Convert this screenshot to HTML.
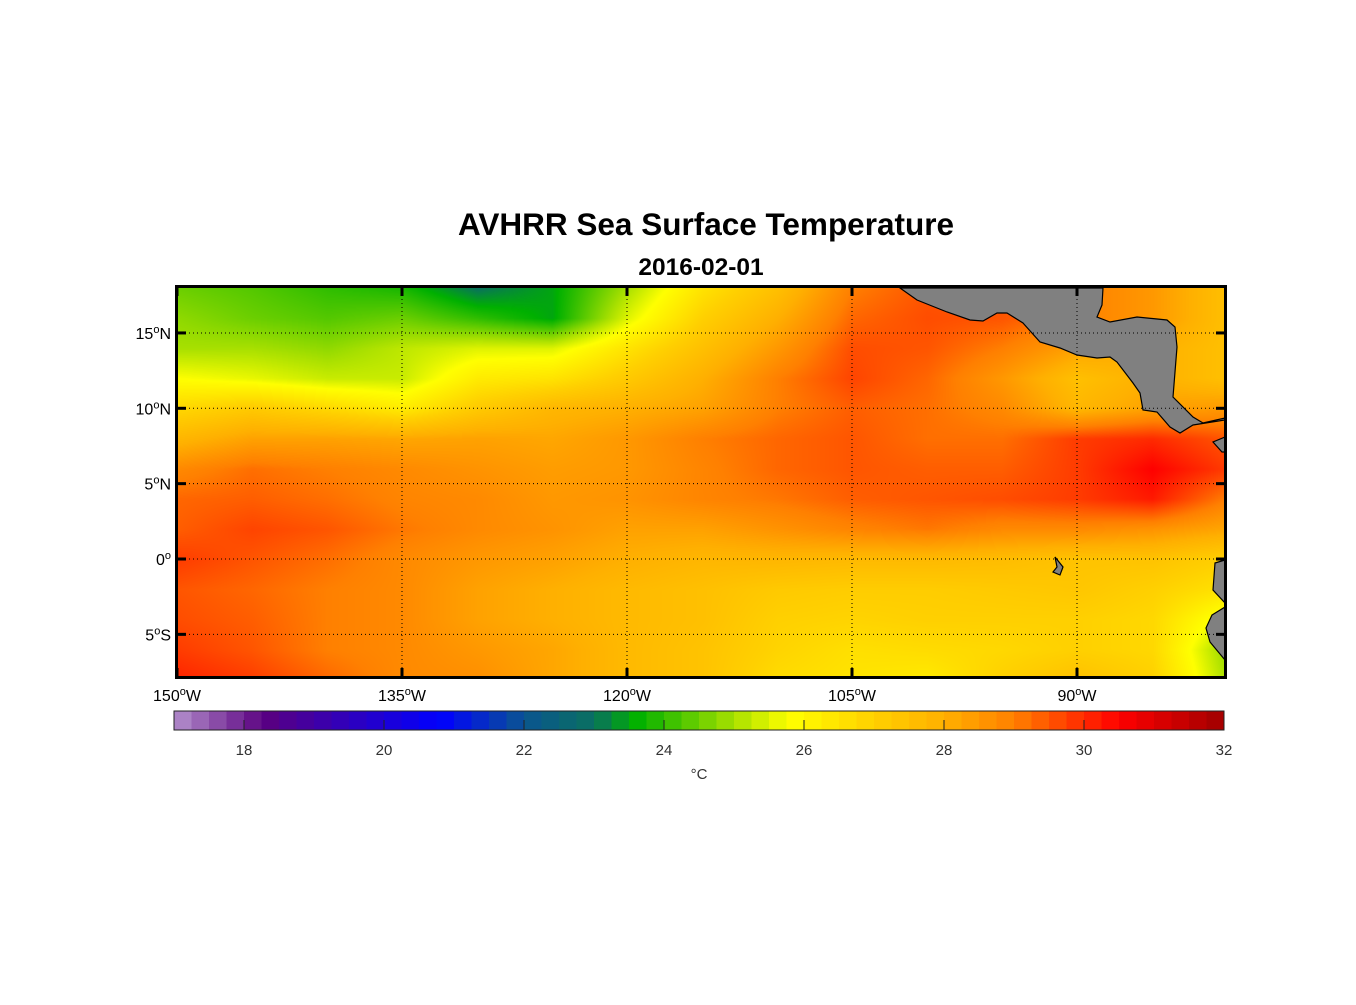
<!DOCTYPE html>
<html><head><meta charset="utf-8"><style>
body{margin:0;background:#fff;width:1356px;height:1000px;overflow:hidden;font-family:"Liberation Sans",sans-serif;}
#wrap{position:relative;width:1356px;height:1000px;}
</style></head><body><div id="wrap">
<svg id="svg" width="1356" height="1000" xmlns="http://www.w3.org/2000/svg">
<text x="706" y="235" text-anchor="middle" font-size="31.5" font-weight="bold">AVHRR Sea Surface Temperature</text>
<text x="701" y="275" text-anchor="middle" font-size="24.5" font-weight="bold">2016-02-01</text>
<foreignObject x="177" y="287" width="1048" height="390"><canvas id="cv" width="1048" height="390" xmlns="http://www.w3.org/1999/xhtml"></canvas></foreignObject>
<g id="land"></g>
<g id="grid"></g>
<rect x="176.5" y="286.5" width="1049" height="391" fill="none" stroke="#000" stroke-width="3"/>
<g id="axes"></g>
<g id="cbar"></g>
<text x="699" y="779" text-anchor="middle" font-size="15" fill="#333">°C</text>
</svg></div>
<script>
const lons=[-150,-145,-140,-135,-130,-125,-120,-115,-110,-105,-100,-95,-90,-85,-80];
const lats=[18,16,14,12,10,8,6,4,2,0,-2,-4,-6,-8];
const sst=[
[24.5,24.3,24,23.8,23,23.5,25,26.5,27.5,29,29.5,29.5,29,28.5,27.5],
[24.8,24.5,24.3,24.5,24,23.5,25.5,27,28,29.3,29.6,29.5,29,28.5,27.5],
[25,25,24.8,25.2,25.5,25.5,26.5,27.5,28.5,29.6,29.5,29,28.3,28,27.5],
[25.8,25.6,25.3,25.3,26.3,26.5,27.2,28,29,29.7,29.3,28.5,27.5,28,27.5],
[26.8,27.2,26.8,26.3,27.2,27.8,28,28.3,29,29.4,29.2,28.8,27.8,28.3,28.5],
[27.8,28.3,28.3,28.2,28.3,28.2,28.5,29,29.3,29.5,29.2,29.2,29.8,30,29.5],
[28.8,29.2,29,28.8,28.6,28.4,28.5,28.9,29.3,29.5,29.4,29.4,29.8,30.5,29.8],
[29.3,29.4,29.2,28.9,28.8,28.5,28.6,28.9,29.1,29.4,29.5,29.6,29.8,30.2,29],
[29.4,29.7,29.5,29.1,28.8,28.6,28.3,28.3,28.6,28.9,29.1,28.8,28.8,28.6,28.2],
[29.8,29.5,29.2,28.8,28.5,28.3,28,27.8,27.8,27.7,27.7,27.6,27.4,27.4,27],
[29.5,29.3,29,28.8,28.3,28,27.7,27.5,27.2,27.1,27.1,27.2,27.3,27,26.5],
[29.6,29.4,29,28.8,28.3,28,27.7,27.5,27,26.9,27,27,27,26.8,25.5],
[29.8,29.5,29,28.8,28.5,28.2,27.7,27.4,26.9,26.6,26.7,26.8,27,26.8,24.8],
[30.1,29.8,29.3,28.8,28.7,28.2,27.7,27.4,26.7,26.5,26.3,27,27.5,27,25]];
const lonTicks=[-150,-135,-120,-105,-90];
const lonTickLabels=["150","135","120","105","90"];
const latTicks=[15,10,5,0,-5];
const latTickLabels=["15","10","5","0","5"];
const latHemi=["N","N","N","","S"];
const cbTicks=[18,20,22,24,26,28,30,32];
const cmapV=[17,18.3,20.8,22,23,23.6,25,25.8,27,28,29,30.5,32];
const cmapC=["#b490cc","#5a0080","#0000ff","#0a5590","#0a7060","#00b000","#a8e000","#ffff00","#ffd000","#ffb000","#ff8000","#ff0000","#a00000"];
const X=lon=>177+(lon+150)*15, Y=lat=>559-lat*15.07;
const CB0=174,CBK=70,cbX=v=>CB0+(v-17)*CBK;
function hex(c){return [parseInt(c.substr(1,2),16),parseInt(c.substr(3,2),16),parseInt(c.substr(5,2),16)];}
const cm=cmapC.map(hex);
function col(v){v=Math.max(17,Math.min(32,v));let i=0;while(i<cmapV.length-2&&v>cmapV[i+1])i++;const t=(v-cmapV[i])/(cmapV[i+1]-cmapV[i]);return cm[i].map((a,k)=>Math.round(a+(cm[i+1][k]-a)*t));}
const ns="http://www.w3.org/2000/svg";
function el(t,a,p){const e=document.createElementNS(ns,t);for(const k in a)e.setAttribute(k,a[k]);p.appendChild(e);return e;}
const cv=document.getElementById('cv'),ctx=cv.getContext('2d'),img=ctx.createImageData(1048,390);
for(let py=0;py<390;py++){const lat=(559-(py+287))/15.07;let fy=(lats[0]-lat)/2;fy=Math.max(0,Math.min(lats.length-1.001,fy));const j=Math.floor(fy),ty=fy-j;
for(let px=0;px<1048;px++){const lon=px/15-150;let fx=(lon-lons[0])/5;fx=Math.max(0,Math.min(lons.length-1.001,fx));const i=Math.floor(fx),tx=fx-i;
const v=(sst[j][i]*(1-tx)+sst[j][i+1]*tx)*(1-ty)+(sst[j+1][i]*(1-tx)+sst[j+1][i+1]*tx)*ty;const c=col(v);const o=(py*1048+px)*4;img.data[o]=c[0];img.data[o+1]=c[1];img.data[o+2]=c[2];img.data[o+3]=255;}}
ctx.putImageData(img,0,0);
const land=document.getElementById('land');
const polys=[["central-america","900,288 917,300 947,312 970,320 983,321 997,313 1007,313 1023,323 1040,342 1060,348 1077,355 1097,358 1110,357 1117,362 1133,383 1140,393 1143,410 1157,412 1170,427 1180,433 1193,425 1225,420 1225,418 1203,423 1193,417 1173,397 1177,347 1175,327 1167,320 1137,317 1110,322 1097,317 1102,305 1103,288"],
["south-america","1225,560 1215,563 1213,590 1225,603 1225,607 1212,615 1206,628 1210,642 1225,660"],
["central-america-tip","1225,437 1213,442 1222,452 1225,452"],
["galapagos","1055,557 1063,567 1060,575 1053,572 1057,567"]];
polys.forEach(p=>{const e=el('polygon',{points:p[1],fill:'#808080',stroke:'#000','stroke-width':1.2},land);});
const grid=document.getElementById('grid'),axes=document.getElementById('axes');
lonTicks.forEach((l,k)=>{const x=X(l);if(k>0){const g=el('line',{x1:x,x2:x,y1:287,y2:677,stroke:'#000','stroke-width':1,'stroke-dasharray':'1,3'},grid);}
[[287,296],[668,677]].forEach(s=>{const t=el('line',{x1:x,x2:x,y1:s[0],y2:s[1],stroke:'#000','stroke-width':3},axes);});
const tx=el('text',{x:x,y:701,'text-anchor':'middle','font-size':16},axes);
tx.innerHTML=lonTickLabels[k]+'<tspan dy="-6" font-size="11">o</tspan><tspan dy="6">W</tspan>';});
latTicks.forEach((l,k)=>{const y=Y(l);const g=el('line',{x1:177,x2:1225,y1:y,y2:y,stroke:'#000','stroke-width':1,'stroke-dasharray':'1,3'},grid);
[[177,186],[1216,1225]].forEach(s=>{const t=el('line',{x1:s[0],x2:s[1],y1:y,y2:y,stroke:'#000','stroke-width':3},axes);});
const tx=el('text',{x:171,y:y+6,'text-anchor':'end','font-size':16},axes);
tx.innerHTML=latTickLabels[k]+'<tspan dy="-6" font-size="11">o</tspan><tspan dy="6">'+latHemi[k]+'</tspan>';});
const cb=document.getElementById('cbar');
for(let v=17;v<32;v+=0.25){const c=col(v+0.125);const r=el('rect',{x:cbX(v),y:711,width:CBK*0.25+0.5,height:19,fill:'rgb('+c.join(',')+')'},cb);}
el('rect',{x:cbX(17),y:711,width:cbX(32)-cbX(17),height:19,fill:'none',stroke:'#222','stroke-width':1},cb);
cbTicks.forEach(v=>{const x=cbX(v);const t=el('line',{x1:x,x2:x,y1:720,y2:730,stroke:'#222','stroke-width':1},cb);
const tx=el('text',{x:x,y:755,'text-anchor':'middle','font-size':15,fill:'#333'},cb);tx.textContent=v;});
</script></body></html>
